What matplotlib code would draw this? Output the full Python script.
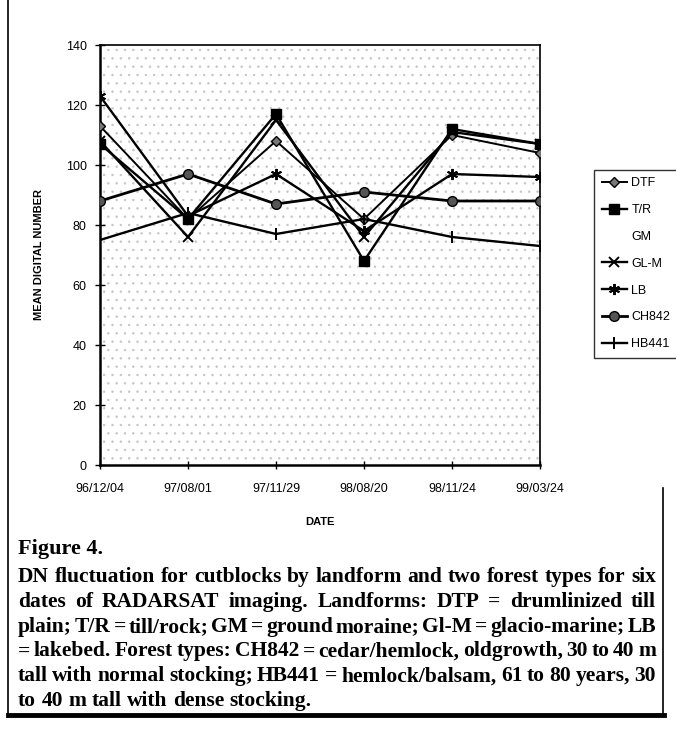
import matplotlib
matplotlib.use("Agg")
import matplotlib.pyplot as plt
from matplotlib.patches import Rectangle
from matplotlib.lines import Line2D

# ---------------- data ----------------
dates = ['96/12/04', '97/08/01', '97/11/29', '98/08/20', '98/11/24', '99/03/24']
dtf = [113, 82, 108, 82, 110, 104]
tr = [107, 82, 117, 68, 112, 107]
gm = []  # not visible in the print
glm = [108, 76, 115, 76, 111, 107]
lb = [123, 83, 97, 78, 97, 96]
ch842 = [88, 97, 87, 91, 88, 88]
hb441 = [75, 84, 77, 82, 76, 73]
y_ticks = [0, 20, 40, 60, 80, 100, 120, 140]

caption_title = "Figure 4."
caption_lines = [
    "DN fluctuation for cutblocks by landform and two forest types for six",
    "dates of RADARSAT imaging. Landforms: DTP = drumlinized till",
    "plain; T/R = till/rock; GM = ground moraine; Gl-M = glacio-marine; LB",
    "= lakebed. Forest types: CH842 = cedar/hemlock, oldgrowth, 30 to 40 m",
    "tall with normal stocking; HB441 = hemlock/balsam, 61 to 80 years, 30",
    "to 40 m tall with dense stocking.",
]

W, H = 676, 730
plt.rcParams['font.family'] = ['Liberation Sans', 'DejaVu Sans']
plt.rcParams['hatch.linewidth'] = 0.5
plt.rcParams['hatch.color'] = '#c0c0c0'

fig = plt.figure(figsize=(W / 100, H / 100), dpi=100)
fig.patch.set_facecolor('white')

def fx(px):
    return px / W

def fy(py):
    return 1 - py / H

ax = fig.add_axes([fx(100), fy(465), fx(540) - fx(100), fy(45) - fy(465)])
ax.set_facecolor('white')
ax.add_patch(Rectangle((0, 0), 1, 1, transform=ax.transAxes, facecolor='white',
                       hatch='..', edgecolor='#c4c4c4', lw=0, zorder=0))

x = list(range(len(dates)))
lw = 1.7
ax.plot(x, dtf, color='black', lw=1.4, marker='D', ms=5, mfc='#777777', mec='black', label='DTF', zorder=4)
ax.plot(x, tr, color='black', lw=lw, marker='s', ms=7, mfc='black', mec='black', label='T/R', zorder=4)
ax.plot(x[:len(gm)], gm, color='white', lw=0.5, label='GM')
ax.plot(x, glm, color='black', lw=lw, marker='x', ms=7, mew=1.4, label='GL-M', zorder=4)
ax.plot(x, lb, color='black', lw=lw, marker=(6, 2, 0), ms=8, mew=1.4, label='LB', zorder=4)
ax.plot(x, ch842, color='black', lw=2.0, marker='o', ms=7, mfc='#555555', mec='black', label='CH842', zorder=4)
ax.plot(x, hb441, color='black', lw=lw, marker='|', ms=9, mew=1.4, label='HB441', zorder=4)

ax.set_xlim(0, len(dates) - 1)
ax.set_ylim(0, 140)
ax.set_yticks(y_ticks)
ax.set_xticks(x)
ax.set_xticklabels(dates, fontsize=9)
ax.tick_params(axis='y', labelsize=9, direction='inout', length=7, width=1, pad=6)
ax.tick_params(axis='x', direction='inout', length=6, width=1, pad=10)
for s in ['left', 'bottom']:
    ax.spines[s].set_linewidth(1.8)
for s in ['top', 'right']:
    ax.spines[s].set_linewidth(1.2)
ax.set_ylabel('MEAN DIGITAL NUMBER', fontsize=8, fontweight='bold', labelpad=16)
ax.set_xlabel('DATE', fontsize=8, fontweight='bold', labelpad=16)

leg = ax.legend(loc='upper left', bbox_to_anchor=(fx(594), fy(170)), bbox_transform=fig.transFigure,
                fontsize=9, frameon=True, fancybox=False, edgecolor='black', handlelength=2.0,
                labelspacing=1.18, borderpad=0.6, handletextpad=0.4, borderaxespad=0)
leg.get_frame().set_linewidth(1.0)

# caption
serif = ['Liberation Serif', 'DejaVu Serif']
fig.text(fx(18), fy(554), caption_title, fontsize=16, fontweight='bold',
         family=serif, ha='left', va='baseline')

renderer = fig.canvas.get_renderer()
x0, x1 = 18, 656
y0, dy = 582, 24.8
cap_font = dict(fontsize=15.5, fontweight='bold', family=serif)
probe_a = fig.text(0, 0, 'a a', **cap_font)
probe_b = fig.text(0, 0, 'aa', **cap_font)
space_w = probe_a.get_window_extent(renderer).width - probe_b.get_window_extent(renderer).width
probe_a.remove()
probe_b.remove()
for i, line in enumerate(caption_lines):
    words = line.split()
    yy = y0 + i * dy
    objs = [fig.text(0, fy(yy), w, ha='left', va='baseline', **cap_font) for w in words]
    widths = [o.get_window_extent(renderer).width for o in objs]
    total = sum(widths)
    if i == len(caption_lines) - 1 or len(words) < 2:
        gap = space_w
    else:
        gap = (x1 - x0 - total) / (len(words) - 1)
    cx = x0
    for o, w in zip(objs, widths):
        o.set_x(fx(cx))
        cx += w + gap

# outer frame
fig.add_artist(Line2D([fx(8), fx(8)], [fy(0), fy(715)], color='black', lw=1.2))
fig.add_artist(Line2D([fx(8), fx(664)], [fy(715), fy(715)], color='black', lw=3.5))
fig.add_artist(Line2D([fx(663), fx(663)], [fy(488), fy(715)], color='black', lw=1.2))

fig.savefig('out.png', dpi=100)
